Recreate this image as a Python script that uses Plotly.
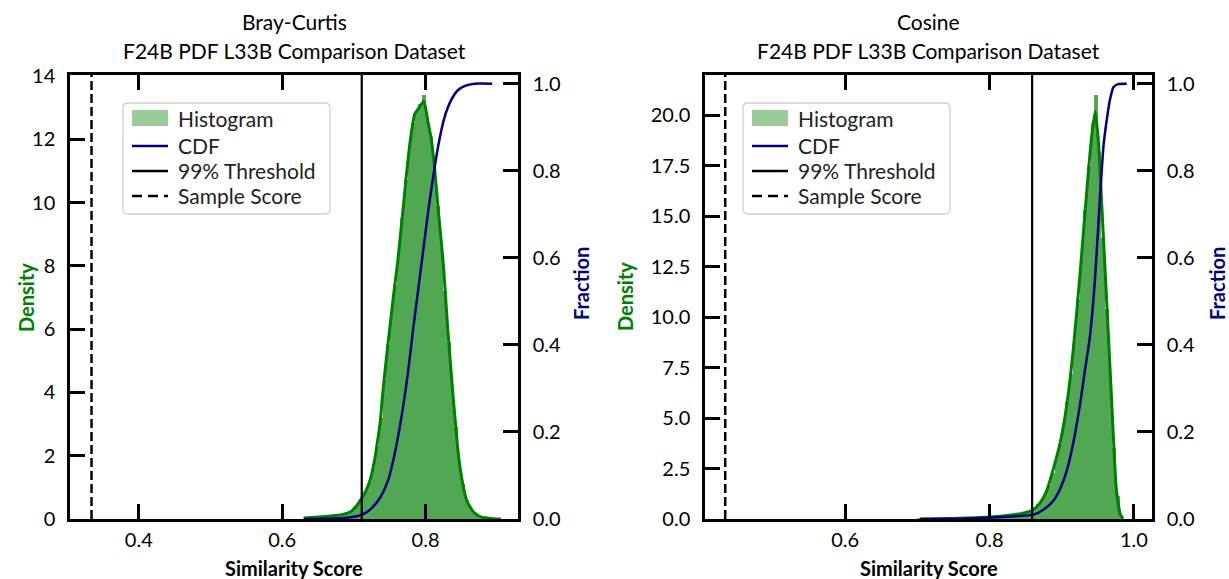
import plotly.graph_objects as go

W, H = 1229, 579
FONT = "Lato"

# ---------------- data ----------------
bin_width = 0.005

bc_hist_x = [0.6325, 0.6375, 0.6425, 0.6475, 0.6525, 0.6575, 0.6625, 0.6675, 0.6725, 0.6775,
             0.6825, 0.6875, 0.6925, 0.6975, 0.7025, 0.7075, 0.7125, 0.7175, 0.7225, 0.7275,
             0.7325, 0.7375, 0.7425, 0.7475, 0.7525, 0.7575, 0.7625, 0.7675, 0.7725, 0.7775,
             0.7825, 0.7875, 0.7925, 0.7975, 0.8025, 0.8075, 0.8125, 0.8175, 0.8225, 0.8275,
             0.8325, 0.8375, 0.8425, 0.8475, 0.8525, 0.8575, 0.8625, 0.8675, 0.8725, 0.8775,
             0.8825, 0.8875, 0.8925, 0.8975, 0.9025]
bc_hist_y = [0.03, 0.03, 0.04, 0.05, 0.05, 0.07, 0.08, 0.09, 0.10, 0.12,
             0.14, 0.17, 0.20, 0.28, 0.40, 0.55, 0.75, 0.95, 1.2, 1.6,
             2.3, 3.2, 4.4, 5.5, 6.5, 7.4, 8.4, 9.5, 10.7, 11.7,
             12.5, 12.9, 13.1, 13.4, 12.7, 12.1, 11.1, 9.9, 8.6, 7.2,
             5.6, 4.1, 2.9, 1.8, 1.1, 0.6, 0.35, 0.2, 0.12, 0.06,
             0.04, 0.02, 0.01, 0.01, 0.005]

bc_kde_x = [0.630, 0.660, 0.681, 0.695, 0.705, 0.711, 0.717, 0.723, 0.728, 0.733,
            0.737, 0.740, 0.745, 0.750, 0.755, 0.761, 0.767, 0.773, 0.779, 0.785,
            0.791, 0.7977, 0.803, 0.808, 0.813, 0.818, 0.825, 0.831, 0.838, 0.846,
            0.852, 0.858, 0.867, 0.877, 0.895, 0.905]
bc_kde_y = [0.03, 0.08, 0.13, 0.22, 0.45, 0.66, 0.9, 1.25, 1.75, 2.45,
            3.1, 3.9, 5.0, 6.0, 7.0, 8.1, 9.4, 10.8, 12.0, 12.8,
            13.0, 13.2, 12.6, 12.0, 11.0, 9.7, 8.0, 6.0, 4.0, 2.0,
            1.1, 0.55, 0.22, 0.07, 0.01, 0.0]

bc_cdf_x = [0.630, 0.690, 0.712, 0.725, 0.737, 0.748, 0.757, 0.766, 0.775, 0.783,
            0.790, 0.797, 0.804, 0.811, 0.818, 0.826, 0.835, 0.845, 0.855, 0.868, 0.893]
bc_cdf_y = [0.0, 0.003, 0.01, 0.025, 0.05, 0.09, 0.15, 0.23, 0.33, 0.44,
            0.53, 0.62, 0.71, 0.79, 0.86, 0.92, 0.96, 0.985, 0.995, 1.0, 1.0]

bc_threshold = 0.711
bc_sample = 0.334

cos_hist_x = [0.7025, 0.7075, 0.7125, 0.7175, 0.7225, 0.7275, 0.7325, 0.7375, 0.7425, 0.7475,
              0.7525, 0.7575, 0.7625, 0.7675, 0.7725, 0.7775, 0.7825, 0.7875, 0.7925, 0.7975,
              0.8025, 0.8075, 0.8125, 0.8175, 0.8225, 0.8275, 0.8325, 0.8375, 0.8425, 0.8475,
              0.8525, 0.8575, 0.8625, 0.8675, 0.8725, 0.8775, 0.8825, 0.8875, 0.8925, 0.8975,
              0.9025, 0.9075, 0.9125, 0.9175, 0.9225, 0.9275, 0.9325, 0.9375, 0.9425, 0.9475,
              0.9525, 0.9575, 0.9625, 0.9675, 0.9725, 0.9775, 0.9825]
cos_hist_y = [0.01, 0.01, 0.01, 0.02, 0.02, 0.02, 0.03, 0.03, 0.03, 0.04,
              0.04, 0.05, 0.05, 0.06, 0.07, 0.07, 0.08, 0.09, 0.10, 0.11,
              0.12, 0.13, 0.15, 0.16, 0.18, 0.20, 0.22, 0.25, 0.28, 0.32,
              0.37, 0.44, 0.55, 0.72, 0.95, 1.25, 1.7, 2.3, 2.95, 3.7,
              4.6, 5.8, 7.2, 8.9, 10.9, 13.0, 15.3, 17.5, 19.6, 21.0,
              18.2, 13.9, 10.4, 6.9, 3.5, 1.15, 0.15]

cos_kde_x = [0.704, 0.750, 0.800, 0.830, 0.845, 0.860, 0.870, 0.879, 0.8885, 0.898,
             0.907, 0.916, 0.9255, 0.9348, 0.941, 0.9463, 0.951, 0.9555, 0.9625, 0.9694,
             0.9754, 0.981, 0.985]
cos_kde_y = [0.0, 0.03, 0.1, 0.2, 0.28, 0.45, 0.8, 1.38, 2.5, 3.8,
             5.65, 8.4, 12.2, 16.3, 18.8, 20.2, 18.6, 15.5, 10.6, 5.65,
             1.54, 0.23, 0.02]

cos_cdf_x = [0.704, 0.780, 0.830, 0.861, 0.875, 0.8885, 0.898, 0.907, 0.916, 0.9255,
             0.932, 0.939, 0.946, 0.953, 0.958, 0.9625, 0.967, 0.9716, 0.978, 0.990]
cos_cdf_y = [0.0, 0.002, 0.006, 0.01, 0.022, 0.042, 0.07, 0.111, 0.175, 0.265,
             0.34, 0.419, 0.55, 0.74, 0.86, 0.919, 0.965, 0.992, 0.999, 1.0]

cos_threshold = 0.859
cos_sample = 0.434

bc_xticks = [0.4, 0.6, 0.8]
cos_xticks = [0.6, 0.8, 1.0]
bc_yticks = [0, 2, 4, 6, 8, 10, 12, 14]
cos_yticks = [0.0, 2.5, 5.0, 7.5, 10.0, 12.5, 15.0, 17.5, 20.0]
frac_ticks = [0.0, 0.2, 0.4, 0.6, 0.8, 1.0]

titles = [("Bray-Curtis", "F24B PDF L33B Comparison Dataset"),
          ("Cosine", "F24B PDF L33B Comparison Dataset")]
legend_labels = ["Histogram", "CDF", "99% Threshold", "Sample Score"]

# ---------------- styling ----------------
GREEN = "#008000"
BAR = "rgb(82,168,82)"
NAVY = "#000080"


def px(x):
    return x / W


def py(y):
    return 1 - y / H


fig = go.Figure()

panels = [
    dict(xa="x", ya="y", ya2="y2", hx=bc_hist_x, hy=bc_hist_y, kx=bc_kde_x, ky=bc_kde_y,
         cx=bc_cdf_x, cy=bc_cdf_y, thr=bc_threshold, smp=bc_sample),
    dict(xa="x2", ya="y3", ya2="y4", hx=cos_hist_x, hy=cos_hist_y, kx=cos_kde_x, ky=cos_kde_y,
         cx=cos_cdf_x, cy=cos_cdf_y, thr=cos_threshold, smp=cos_sample),
]

for p in panels:
    fig.add_trace(go.Bar(x=p["hx"], y=p["hy"], width=bin_width, xaxis=p["xa"], yaxis=p["ya"],
                         marker=dict(color=BAR, line=dict(width=0)), showlegend=False))
    fig.add_trace(go.Scatter(x=p["kx"], y=p["ky"], mode="lines", xaxis=p["xa"], yaxis=p["ya"],
                             line=dict(color=GREEN, width=3, shape="spline", smoothing=0.5),
                             showlegend=False))
    fig.add_trace(go.Scatter(x=p["cx"], y=p["cy"], mode="lines", xaxis=p["xa"], yaxis=p["ya2"],
                             line=dict(color=NAVY, width=2.5, shape="spline", smoothing=0.6),
                             showlegend=False))

shapes = []
for p in panels:
    shapes.append(dict(type="line", xref=p["xa"], yref=p["ya"] + " domain", x0=p["thr"], x1=p["thr"],
                       y0=0, y1=1, line=dict(color="black", width=2.2)))
    shapes.append(dict(type="line", xref=p["xa"], yref=p["ya"] + " domain", x0=p["smp"], x1=p["smp"],
                       y0=0, y1=1, line=dict(color="black", width=2.5, dash="9px,4px")))

# ---------------- axes ----------------
tickfont = dict(family=FONT, size=20, color="black")
common = dict(showline=True, linewidth=2.5, linecolor="black", ticks="inside", ticklen=15,
              tickwidth=2.5, tickcolor="black", showgrid=False, zeroline=False, tickfont=tickfont,
              automargin=False)

ydom = [py(519), py(75)]
fig.update_layout(
    xaxis=dict(domain=[px(70), px(518)], range=[0.304, 0.929], anchor="y", mirror="ticks",
               tickvals=bc_xticks, ticktext=[f"{v:.1f}" for v in bc_xticks], ticklabelstandoff=1,
               **common),
    yaxis=dict(domain=ydom, range=[0, 14.03], anchor="x", tickvals=bc_yticks,
               ticktext=[str(v) for v in bc_yticks], ticklabelstandoff=8, **common),
    yaxis2=dict(overlaying="y", side="right", anchor="x", range=[0, 1.02], tickvals=frac_ticks,
                ticktext=[f"{v:.1f}" for v in frac_ticks], ticklabelstandoff=8, **common),
    xaxis2=dict(domain=[px(705), px(1152)], range=[0.406, 1.025], anchor="y3", mirror="ticks",
                tickvals=cos_xticks, ticktext=[f"{v:.1f}" for v in cos_xticks], ticklabelstandoff=1,
                **common),
    yaxis3=dict(domain=ydom, range=[0, 22.0], anchor="x2", tickvals=cos_yticks,
                ticktext=[f"{v:.1f}" for v in cos_yticks], ticklabelstandoff=8, **common),
    yaxis4=dict(overlaying="y3", side="right", anchor="x2", range=[0, 1.02], tickvals=frac_ticks,
                ticktext=[f"{v:.1f}" for v in frac_ticks], ticklabelstandoff=8, **common),
)

# ---------------- annotations ----------------
ann = []


def text(x, y, s, size=20, color="black", bold=False, angle=0, xanchor="center"):
    ann.append(dict(x=px(x), y=py(y), xref="paper", yref="paper", text=(f"<b>{s}</b>" if bold else s),
                    showarrow=False, xanchor=xanchor, yanchor="middle", textangle=angle,
                    borderpad=0, font=dict(family=FONT, size=size, color=color)))


centers = [(70 + 518) / 2, (705 + 1152) / 2]
for cx, (t1, t2) in zip(centers, titles):
    text(cx, 22, t1, size=21)
    text(cx, 51, t2, size=21)
    text(cx, 568, "Similarity Score", size=20, bold=True)

text(26, 297, "Density", size=20, color=GREEN, bold=True, angle=-90)
text(581, 284, "Fraction", size=20, color=NAVY, bold=True, angle=-90)
text(625, 297, "Density", size=20, color=GREEN, bold=True, angle=-90)
text(1217, 284, "Fraction", size=20, color=NAVY, bold=True, angle=-90)


# ---------------- legends (manual) ----------------
def rrect(x0, y0, x1, y1, r):
    pts = [
        ("M", [(x0 + r, y0)]), ("L", [(x1 - r, y0)]), ("Q", [(x1, y0), (x1, y0 + r)]),
        ("L", [(x1, y1 - r)]), ("Q", [(x1, y1), (x1 - r, y1)]), ("L", [(x0 + r, y1)]),
        ("Q", [(x0, y1), (x0, y1 - r)]), ("L", [(x0, y0 + r)]), ("Q", [(x0, y0), (x0 + r, y0)]),
    ]
    s = ""
    for cmd, ps in pts:
        s += cmd + " " + " ".join(f"{px(a):.5f},{py(b):.5f}" for a, b in ps) + " "
    return s + "Z"


for dx in [0, 620]:
    bx0, by0, bx1, by1 = 123 + dx, 103, 330 + dx, 214
    shapes.append(dict(type="path", xref="paper", yref="paper", path=rrect(bx0, by0, bx1, by1, 5),
                       fillcolor="rgba(255,255,255,0.85)", line=dict(color="#d0d0d0", width=1.3)))
    lx0, lx1 = 132 + dx, 168 + dx
    rows = [118, 146, 171, 196]
    shapes.append(dict(type="rect", xref="paper", yref="paper", x0=px(lx0), x1=px(lx1),
                       y0=py(rows[0] - 8), y1=py(rows[0] + 8), fillcolor="rgba(0,128,0,0.4)",
                       line=dict(width=0)))
    shapes.append(dict(type="line", xref="paper", yref="paper", x0=px(lx0), x1=px(lx1),
                       y0=py(rows[1]), y1=py(rows[1]), line=dict(color=NAVY, width=2.5)))
    shapes.append(dict(type="line", xref="paper", yref="paper", x0=px(lx0), x1=px(lx1),
                       y0=py(rows[2]), y1=py(rows[2]), line=dict(color="black", width=2.5)))
    shapes.append(dict(type="line", xref="paper", yref="paper", x0=px(lx0), x1=px(lx1),
                       y0=py(rows[3]), y1=py(rows[3]), line=dict(color="black", width=2.5, dash="10px,6px")))
    for r, lab in zip(rows, legend_labels):
        text(177 + dx, r, lab, size=21, color="#222222", xanchor="left")

fig.update_layout(
    width=W, height=H, margin=dict(l=0, r=0, t=0, b=0),
    paper_bgcolor="white", plot_bgcolor="white", showlegend=False,
    bargap=0, barmode="overlay",
    shapes=shapes, annotations=ann,
)

fig.write_html("out.html")
